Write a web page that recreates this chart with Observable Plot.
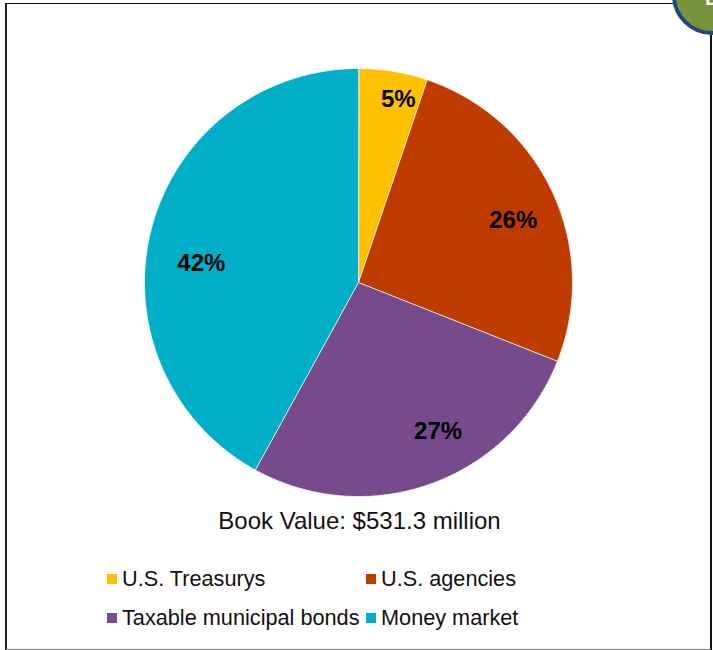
<!DOCTYPE html>
<html><head><meta charset="utf-8">
<script src="https://cdn.jsdelivr.net/npm/d3@7"></script>
<script src="https://cdn.jsdelivr.net/npm/@observablehq/plot@0.6"></script>
<style>
html,body{margin:0;padding:0;background:#fff}
body{width:713px;height:650px;overflow:hidden;position:relative;font-family:Arial,"Liberation Sans",sans-serif;color:#111}
#frame{position:absolute;left:5px;top:3px;width:707px;height:647px;box-sizing:border-box;border-left:2.5px solid #222;border-top:1.5px solid #111;border-right:2px solid #111;border-bottom:1.5px solid #777}
#chart{position:absolute;left:0;top:0}
#caption{position:absolute;left:0;top:509px;width:719px;text-align:center;font-size:24px;line-height:24px;white-space:nowrap}
.leg{position:absolute;font-size:21.7px;line-height:21.7px;white-space:nowrap}
.sw{position:absolute;width:10px;height:10px}
#badge{position:absolute;left:0;top:0}
</style></head>
<body>
<div id="frame"></div>
<div id="chart"></div>
<div id="caption"></div>
<div id="legend"></div>
<svg id="badge" width="713" height="60"><circle cx="712" cy="-5" r="38" fill="#77933C" stroke="#1F497D" stroke-width="4"/><text x="705" y="5" fill="#fff" font-family="Arial,'Liberation Sans',sans-serif" font-weight="bold" font-size="20">E</text></svg>
<script>
const categories = ["U.S. Treasurys", "U.S. agencies", "Taxable municipal bonds", "Money market"];
const shares = [5.2, 25.8, 27.0, 42.0];
const labels = ["5%", "26%", "27%", "42%"];
const colors = ["#FFC000", "#C03B00", "#764A8B", "#00AEC8"];
const caption = "Book Value: $531.3 million";
// label placement tweaks (layout only): angle offset in degrees, radius as fraction
const labelAngleOffset = [2.9, 2.8, -8.3, -7.4];
const labelRadius = [0.875, 0.78, 0.79, 0.74];

const arcs = d3.pie().sort(null).value(d => d)(shares);
const pts = [];
const labelData = [];
arcs.forEach((a, i) => {
  const c = categories[i];
  pts.push({c, x: 0, y: 0});
  const n = Math.max(2, Math.ceil((a.endAngle - a.startAngle) / (Math.PI / 360)));
  for (let k = 0; k <= n; k++) {
    const t = a.startAngle + (a.endAngle - a.startAngle) * k / n;
    pts.push({c, x: Math.sin(t), y: Math.cos(t)});
  }
  const m = (a.startAngle + a.endAngle) / 2 + labelAngleOffset[i] * Math.PI / 180;
  const r = labelRadius[i];
  labelData.push({text: labels[i], x: r * Math.sin(m), y: r * Math.cos(m)});
});

const plot = Plot.plot({
  width: 713, height: 500,
  margin: 0,
  x: {domain: [-1, 1], range: [144, 572], axis: null},
  y: {domain: [-1, 1], range: [496, 68], axis: null},
  color: {domain: categories, range: colors},
  style: {background: "transparent", fontFamily: "Arial, 'Liberation Sans', sans-serif"},
  marks: [
    Plot.line(pts, {x: "x", y: "y", z: "c", fill: "c", stroke: "white", strokeWidth: 0.75, curve: "linear-closed"}),
    Plot.text(labelData, {x: "x", y: "y", text: "text", fontSize: 24, fontWeight: "bold", fill: "#000"})
  ]
});
document.getElementById("chart").appendChild(plot);
document.getElementById("caption").textContent = caption;

const legendPos = [[107, 568], [366, 568], [107, 607], [366, 607]];
const leg = document.getElementById("legend");
categories.forEach((c, i) => {
  const [lx, ly] = legendPos[i];
  const sw = document.createElement("div");
  sw.className = "sw";
  sw.style.left = lx + "px"; sw.style.top = (ly + 6) + "px";
  sw.style.background = colors[i];
  leg.appendChild(sw);
  const t = document.createElement("div");
  t.className = "leg";
  t.style.left = (lx + 15) + "px"; t.style.top = ly + "px";
  t.textContent = c;
  leg.appendChild(t);
});
</script>
</body></html>
